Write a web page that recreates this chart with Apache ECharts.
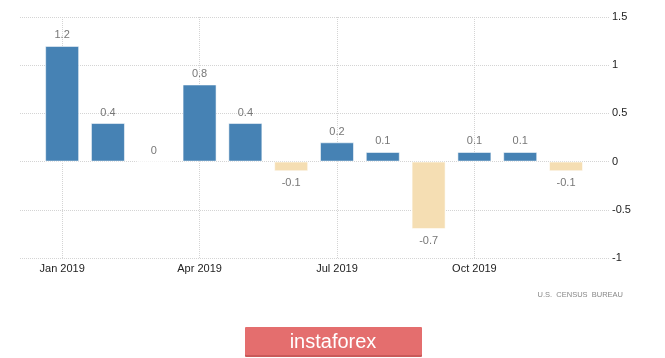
<!DOCTYPE html>
<html>
<head>
<meta charset="utf-8">
<script src="https://cdn.jsdelivr.net/npm/echarts@6/dist/echarts.min.js"></script>
<style>
html,body{margin:0;padding:0;background:#fff;}
#chart{width:665px;height:358px;}
</style>
</head>
<body>
<div id="chart"></div>
<script>
// Data
var months = ['Jan 2019','Feb 2019','Mar 2019','Apr 2019','May 2019','Jun 2019','Jul 2019','Aug 2019','Sep 2019','Oct 2019','Nov 2019','Dec 2019'];
var values = [1.2, 0.4, 0, 0.8, 0.4, -0.1, 0.2, 0.1, -0.7, 0.1, 0.1, -0.1];
var xTickIndex = [0, 3, 6, 9];
var yTicks = [-1, -0.5, 0, 0.5, 1, 1.5];
var sourceText = 'U.S.  CENSUS  BUREAU';
var logoText = 'instaforex';

var chart = echarts.init(document.getElementById('chart'), null, {renderer: 'canvas'});
var font = 'Liberation Sans, Arial, sans-serif';

var option = {
  animation: false,
  backgroundColor: '#ffffff',
  grid: {left: 20, right: 55, top: 17, bottom: 100, containLabel: false},
  xAxis: {
    type: 'value',
    min: -0.92,
    max: 11.96,
    axisLine: {show: false},
    axisTick: {show: false, customValues: xTickIndex},
    axisLabel: {
      customValues: xTickIndex,
      formatter: function (v) { return months[Math.round(v)]; },
      color: '#222', fontSize: 11, fontFamily: font, margin: 5
    },
    splitLine: {show: true, lineStyle: {type: 'dotted', color: '#d4d4d4', width: 1}}
  },
  yAxis: {
    type: 'value',
    position: 'right',
    min: yTicks[0],
    max: yTicks[yTicks.length - 1],
    interval: 0.5,
    axisLine: {show: false},
    axisTick: {show: false},
    axisLabel: {color: '#222', fontSize: 11, fontFamily: font, margin: 2},
    splitLine: {show: true, lineStyle: {type: 'dotted', color: '#d4d4d4', width: 1}}
  },
  series: [{
    type: 'bar',
    barWidth: 34,
    data: values.map(function (v, i) {
      return {
        value: [i, v],
        itemStyle: {color: v >= 0 ? '#4682b4' : '#f5deb3'},
        label: {position: v >= 0 ? 'top' : 'bottom', distance: v >= 0 ? 5 : 6}
      };
    }),
    itemStyle: {borderColor: 'rgba(255,255,255,0.55)', borderWidth: 1},
    label: {
      show: true,
      color: '#777',
      fontSize: 11,
      fontFamily: font,
      formatter: function (p) { return String(p.value[1]); }
    }
  }],
  graphic: [
    {
      type: 'text', right: 42, top: 291,
      style: {text: sourceText, fill: '#888', font: '7.5px ' + font}
    },
    {
      type: 'rect', left: 245, top: 328,
      shape: {width: 177, height: 29, r: 1},
      style: {fill: '#c95a5a'}
    },
    {
      type: 'rect', left: 245, top: 327,
      shape: {width: 177, height: 28, r: 1},
      style: {fill: '#e46e6e'}
    },
    {
      type: 'text', x: 333, y: 342,
      style: {text: logoText, fill: '#ffffff', font: '20px ' + font, align: 'center', verticalAlign: 'middle'}
    }
  ]
};
chart.setOption(option);
</script>
</body>
</html>
